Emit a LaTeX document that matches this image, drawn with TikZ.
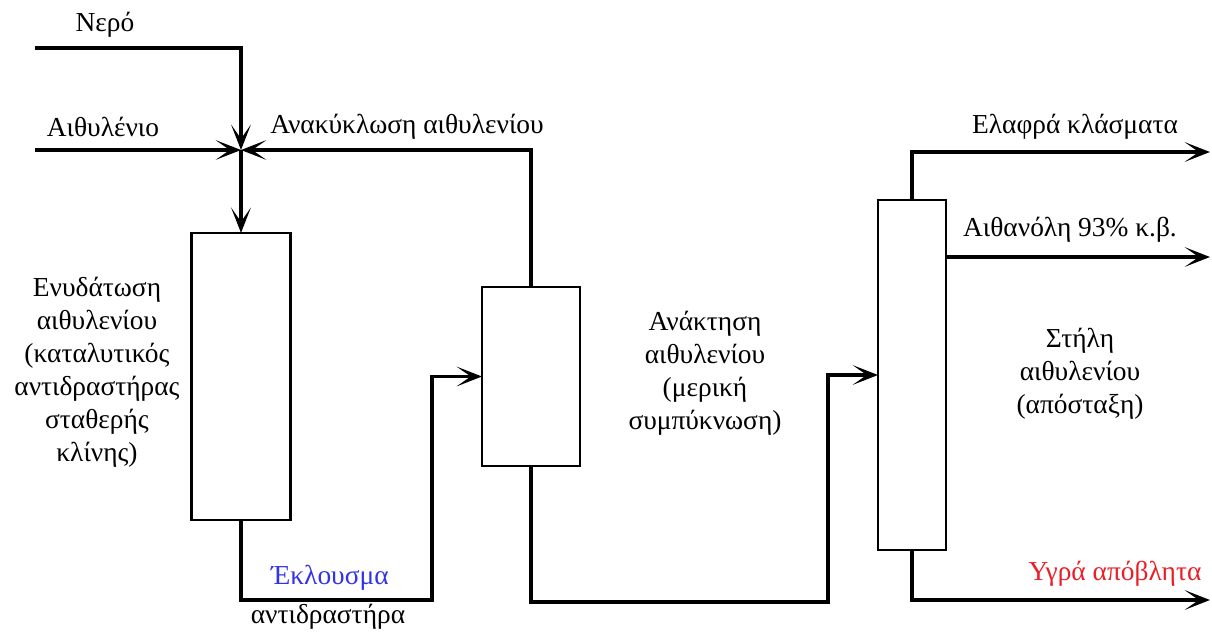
\documentclass[tikz,border=0pt]{standalone}
\usepackage{fontspec}
\setmainfont{Liberation Serif}
\usetikzlibrary{arrows.meta}
\definecolor{labelblue}{RGB}{50,50,230}
\definecolor{labelred}{RGB}{235,30,40}
\begin{document}
\begin{tikzpicture}[x=0.025cm,y=-0.025cm,
  unit/.style={draw,line width=1.8pt,inner sep=0pt,outer sep=0pt,fill=white},
  flow/.style={line width=2.8pt,-{Stealth[length=18pt,width=14pt,inset=10pt]}},
  lbl/.style={font=\fontsize{19.5}{23.5}\selectfont,align=center,inner sep=0pt}]
\useasboundingbox (0,0) rectangle (1212,633);

% process units
\node[unit,minimum width=2.475cm,minimum height=7.175cm] (B1) at (241,376.5) {};
\node[unit,minimum width=2.45cm,minimum height=4.475cm] (B2) at (531,376.5) {};
\node[unit,minimum width=1.7cm,minimum height=8.75cm] (B3) at (912,375) {};

% stream end points and bends
\coordinate (J) at (241,150);
\coordinate (w0) at (35,48);
\coordinate (e0) at (35,150);
\coordinate (k1) at (432,600);
\coordinate (k2) at (828,602);
\coordinate (o1) at (1210,152);
\coordinate (o2) at (1210,257);
\coordinate (o3) at (1210,600);

% feed streams to the mixing point
\draw[flow] (w0) -| (J);
\draw[flow] (e0) -- (J);
\draw[flow] (B2.north) |- (J);
\draw[flow] (J) -- (B1.north);

% reactor effluent to ethylene recovery
\draw[flow] (B1.south) |- (k1) |- (B2.west);
% recovery liquid to the column
\draw[flow] (B2.south) |- (k2) |- (B3.west);

% column products
\draw[flow] (B3.north) |- (o1);
\draw[flow] (B3.east |- o2) -- (o2);
\draw[flow] (B3.south) |- (o3);

% labels
\node[lbl] (tNero) at (105,25) {Νερό};
\node[lbl] (tEth) at (103,127) {Αιθυλένιο};
\node[lbl] (tRec) at (407,127) {Ανακύκλωση αιθυλενίου};
\node[lbl] (tB1) at (97,372) {Ενυδάτωση\\αιθυλενίου\\(καταλυτικός\\αντιδραστήρας\\σταθερής\\κλίνης)};
\node[lbl,text=labelblue] (tEff) at (330,578) {Έκλουσμα};
\node[lbl] (tEff2) at (328,617) {αντιδραστήρα};
\node[lbl] (tB2) at (705,373) {Ανάκτηση\\αιθυλενίου\\(μερική\\συμπύκνωση)};
\node[lbl] (tB3) at (1080,374) {Στήλη\\αιθυλενίου\\(απόσταξη)};
\node[lbl] (tLight) at (1075,127) {Ελαφρά κλάσματα};
\node[lbl] (tEtOH) at (1070,230) {Αιθανόλη 93\% κ.β.};
\node[lbl,text=labelred] (tWaste) at (1115,574) {Υγρά απόβλητα};
\end{tikzpicture}
\end{document}
